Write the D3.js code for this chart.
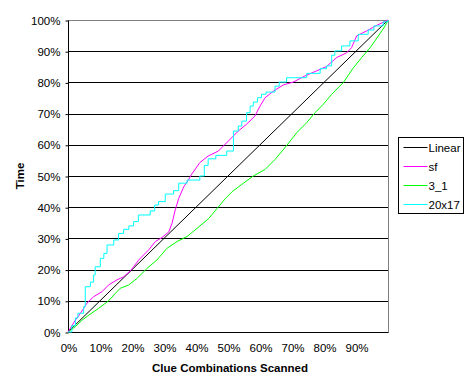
<!DOCTYPE html>
<html>
<head>
<meta charset="utf-8">
<script src="https://cdn.jsdelivr.net/npm/d3@7"></script>
<style>
  body { margin: 0; background: #fff; }
  text { font-family: Arial, "Liberation Sans", sans-serif; }
</style>
</head>
<body>
<div id="chart-area"></div>
<script>
// series, values are fractions (x = clue combos scanned, y = time)
var seriesNames = ["Linear", "sf", "3_1", "20x17"];
var seriesColors = ["#000000", "#ff00ff", "#00ff00", "#00ffff"];

var linearData = [[0, 0], [1, 1]];

var sfData = [
    [0, 0], [0.023, 0.038], [0.039, 0.06], [0.059, 0.092], [0.08, 0.113], [0.106, 0.129],
    [0.127, 0.151], [0.153, 0.167], [0.174, 0.177], [0.195, 0.196], [0.205, 0.209],
    [0.221, 0.231], [0.252, 0.263], [0.273, 0.29], [0.294, 0.303], [0.315, 0.321],
    [0.325, 0.348], [0.335, 0.391], [0.346, 0.428], [0.362, 0.466], [0.375, 0.485],
    [0.386, 0.505], [0.412, 0.543], [0.438, 0.564], [0.47, 0.58], [0.501, 0.612],
    [0.532, 0.644], [0.558, 0.666], [0.584, 0.692], [0.6, 0.724], [0.616, 0.751],
    [0.642, 0.772], [0.673, 0.792], [0.704, 0.801], [0.741, 0.821], [0.777, 0.837],
    [0.808, 0.851], [0.84, 0.88], [0.871, 0.895], [0.886, 0.911], [0.902, 0.949],
    [0.933, 0.965], [0.965, 0.983], [1, 1]
];

var g31Data = [
    [0, 0], [0.023, 0.017], [0.044, 0.038], [0.065, 0.054], [0.096, 0.076], [0.127, 0.1],
    [0.148, 0.124], [0.163, 0.14], [0.19, 0.151], [0.216, 0.172], [0.247, 0.204],
    [0.278, 0.231], [0.309, 0.268], [0.341, 0.29], [0.372, 0.306], [0.403, 0.332],
    [0.44, 0.364], [0.466, 0.396], [0.492, 0.428], [0.513, 0.45], [0.543, 0.473],
    [0.579, 0.5], [0.616, 0.521], [0.647, 0.553], [0.678, 0.591], [0.715, 0.639],
    [0.746, 0.671], [0.772, 0.703], [0.798, 0.73], [0.824, 0.762], [0.86, 0.799],
    [0.892, 0.847], [0.918, 0.88], [0.944, 0.911], [0.97, 0.949], [0.991, 0.981], [1, 1]
];

// staircase: each point starts a flat run that climbs at the next x
var s2017Data = [
    [0, 0], [0.012, 0.02], [0.023, 0.045], [0.031, 0.06], [0.049, 0.081], [0.054, 0.145],
    [0.07, 0.16], [0.08, 0.183], [0.085, 0.209], [0.101, 0.236], [0.112, 0.252],
    [0.122, 0.279], [0.143, 0.295], [0.158, 0.316], [0.174, 0.329], [0.19, 0.34],
    [0.205, 0.354], [0.22, 0.375], [0.257, 0.388], [0.271, 0.407], [0.283, 0.418],
    [0.304, 0.442], [0.33, 0.453], [0.346, 0.477], [0.372, 0.487], [0.412, 0.5],
    [0.426, 0.534], [0.438, 0.555], [0.462, 0.566], [0.496, 0.58], [0.517, 0.644],
    [0.532, 0.66], [0.543, 0.676], [0.558, 0.703], [0.569, 0.724], [0.579, 0.737],
    [0.592, 0.751], [0.605, 0.762], [0.619, 0.769], [0.647, 0.788], [0.66, 0.801],
    [0.683, 0.815], [0.746, 0.829], [0.788, 0.844], [0.808, 0.853], [0.824, 0.887],
    [0.834, 0.901], [0.855, 0.917], [0.881, 0.933], [0.907, 0.954], [0.938, 0.968],
    [0.956, 0.981], [0.985, 0.994], [1, 1]
];

var allSeries = [linearData, sfData, g31Data, s2017Data];

var xTicks = [0, 0.1, 0.2, 0.3, 0.4, 0.5, 0.6, 0.7, 0.8, 0.9];
var yTicks = [0, 0.1, 0.2, 0.3, 0.4, 0.5, 0.6, 0.7, 0.8, 0.9, 1];

var W = 468, H = 388;
var margin = { left: 68, right: 80, top: 20, bottom: 56 };
var width = W - margin.left - margin.right,
    height = H - margin.top - margin.bottom;
var fs = "11.5px";

var svg = d3.select("#chart-area")
    .append("svg")
        .attr("width", W)
        .attr("height", H);

var g = svg.append("g")
    .attr("transform", "translate(" + margin.left + ", " + margin.top + ")");

var x = d3.scaleLinear().domain([0, 1]).range([0, width]);
var y = d3.scaleLinear().domain([0, 1]).range([height, 0]);
var pct = d3.format(".0%");

// gridlines
g.selectAll(".grid")
    .data(yTicks.slice(1, -1))
    .enter().append("line")
        .attr("x1", 0).attr("x2", width)
        .attr("y1", d => Math.round(y(d)) + 0.5)
        .attr("y2", d => Math.round(y(d)) + 0.5)
        .attr("stroke", "#000");

// gray border top + right
g.append("path")
    .attr("d", "M0.5,0.5H" + (width + 0.5) + "V" + (height + 0.5))
    .attr("fill", "none")
    .attr("stroke", "#808080");

// y axis
var yAxis = g.append("g")
    .attr("transform", "translate(0.5,0.5)")
    .call(d3.axisLeft(y).tickValues(yTicks).tickFormat(pct).tickSize(3).tickPadding(5));
yAxis.select(".domain").attr("stroke", "#000").attr("d", "M0,0V" + height);
yAxis.selectAll("text").attr("font-size", fs).attr("font-family", "Arial, 'Liberation Sans'");

// x axis
var xAxis = g.append("g")
    .attr("transform", "translate(0.5," + (height + 0.5) + ")")
    .call(d3.axisBottom(x).tickValues(xTicks).tickFormat(pct).tickSize(0).tickPadding(11));
xAxis.select(".domain").attr("stroke", "#000").attr("d", "M0,0H" + width);
xAxis.selectAll("text").attr("font-size", fs).attr("font-family", "Arial, 'Liberation Sans'");

// series
var line = d3.line().x(d => x(d[0])).y(d => y(d[1]));
var stepLine = d3.line().x(d => x(d[0])).y(d => y(d[1])).curve(d3.curveStepAfter);

var drawOrder = [0, 2, 1, 3];
drawOrder.forEach(function (i) {
    g.append("path")
        .datum(allSeries[i])
        .attr("fill", "none")
        .attr("stroke", seriesColors[i])
        .attr("stroke-width", 1)
        .attr("d", i == 3 ? stepLine : line);
});

// axis titles
svg.append("text")
    .attr("x", margin.left + width / 2 + 2)
    .attr("y", 372)
    .attr("text-anchor", "middle")
    .attr("font-size", fs)
    .attr("font-weight", "bold")
    .text("Clue Combinations Scanned");

svg.append("text")
    .attr("transform", "translate(24," + (margin.top + height / 2) + ") rotate(-90)")
    .attr("text-anchor", "middle")
    .attr("font-size", fs)
    .attr("font-weight", "bold")
    .text("Time");

// legend
var legend = svg.append("g").attr("transform", "translate(398.5,137.5)");
legend.append("rect")
    .attr("width", 65).attr("height", 76)
    .attr("fill", "#fff").attr("stroke", "#000");

var items = legend.selectAll(".item")
    .data(seriesNames)
    .enter().append("g")
        .attr("transform", (d, i) => "translate(0," + (10 + i * 19) + ")");
items.append("line")
    .attr("x1", 5).attr("x2", 29)
    .attr("stroke", (d, i) => seriesColors[i]);
items.append("text")
    .attr("x", 30)
    .attr("dy", "0.35em")
    .attr("font-size", fs)
    .text(d => d);
</script>
</body>
</html>
